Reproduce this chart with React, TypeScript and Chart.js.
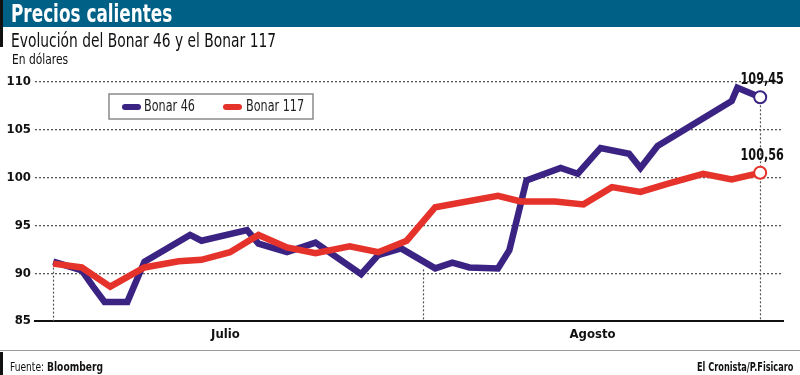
import React, { useEffect, useRef } from "react";
import { Chart, registerables } from "chart.js";

Chart.register(...registerables);

const FONT = "'Liberation Sans Narrow', 'DejaVu Sans Condensed', 'Roboto', sans-serif";

// Bonar 46 (day index within the period, value in USD)
const days46 = [0, 2.5, 3.5, 4.5, 6.5, 8, 12, 13, 17, 18, 20.5, 23, 27, 28.5, 30.5, 33.5, 35, 36.5, 39, 40, 41.5, 44.5, 46, 48, 50.5, 51.5, 53, 59.5, 60, 62];
const values46 = [91.2, 90.3, 88.6, 87.0, 87.0, 91.2, 94.0, 93.4, 94.5, 93.1, 92.2, 93.2, 89.9, 91.9, 92.6, 90.5, 91.1, 90.6, 90.5, 92.4, 99.7, 101.0, 100.4, 103.1, 102.5, 101.0, 103.3, 108.0, 109.4, 108.4];

// Bonar 117
const days117 = [0, 2.5, 5, 8, 11, 13, 15.5, 18, 20.5, 23, 26, 28.5, 31, 33.5, 39, 41, 44, 46.5, 49, 51.5, 54, 57, 59.5, 62];
const values117 = [91.0, 90.6, 88.6, 90.6, 91.25, 91.4, 92.2, 94.0, 92.7, 92.1, 92.8, 92.2, 93.4, 96.9, 98.1, 97.5, 97.5, 97.2, 99.0, 98.5, 99.4, 100.4, 99.8, 100.5];

const seriesNames = ["Bonar 46", "Bonar 117"];
const seriesColors = ["#3a2383", "#e5322a"];
const endLabels = ["109,45", "100,56"];

const months = ["Julio", "Agosto"];
const monthCenters = [15.1, 47.3];

const yTicks = [85, 90, 95, 100, 105, 110];

// dotted drop lines: day and the value where they start
const dropDays = [0, 32.4, 62];
const dropTops = [91.0, 90.4, 108.4];

function squeezedText(ctx: any, text: string, x: number, y: number, sx: number) {
  ctx.save();
  ctx.translate(x, y);
  ctx.scale(sx, 1);
  ctx.fillText(text, 0, 0);
  ctx.restore();
}

const overlayPlugin = {
  id: "overlay",
  beforeDatasetsDraw(chart: any) {
    const { ctx, scales } = chart;
    const x = scales.x;
    const y = scales.y;
    ctx.save();
    ctx.strokeStyle = "#555";
    ctx.lineWidth = 1.2;
    ctx.setLineDash([2, 2]);
    dropDays.forEach((d, i) => {
      const px = Math.round(x.getPixelForValue(d)) + 0.5;
      ctx.beginPath();
      ctx.moveTo(px, y.getPixelForValue(dropTops[i]));
      ctx.lineTo(px, y.getPixelForValue(85));
      ctx.stroke();
    });
    ctx.restore();
  },
  afterDatasetsDraw(chart: any) {
    const { ctx, chartArea, scales } = chart;
    const x = scales.x;
    const y = scales.y;
    ctx.save();
    // legend box
    const bx = chartArea.left + 74;
    const by = chartArea.top + 12;
    ctx.fillStyle = "#fff";
    ctx.fillRect(bx, by, 204, 25);
    ctx.strokeStyle = "#8a8a8a";
    ctx.lineWidth = 1.5;
    ctx.strokeRect(bx, by, 204, 25);
    const items = [
      { px: bx + 13, tx: bx + 35 },
      { px: bx + 114, tx: bx + 137 },
    ];
    items.forEach((it, i) => {
      ctx.strokeStyle = seriesColors[i];
      ctx.lineWidth = 6;
      ctx.lineCap = "round";
      ctx.beginPath();
      ctx.moveTo(it.px + 3, by + 13);
      ctx.lineTo(it.px + 16, by + 13);
      ctx.stroke();
      ctx.fillStyle = "#222";
      ctx.font = `15px ${FONT}`;
      ctx.textBaseline = "middle";
      ctx.textAlign = "left";
      squeezedText(ctx, seriesNames[i], it.tx, by + 13.5, 0.83);
    });
    // end labels
    ctx.fillStyle = "#111";
    ctx.font = `bold 16px ${FONT}`;
    ctx.textAlign = "center";
    ctx.textBaseline = "alphabetic";
    const lastVals = [values46[values46.length - 1], values117[values117.length - 1]];
    const lastDays = [days46[days46.length - 1], days117[days117.length - 1]];
    lastVals.forEach((v, i) => {
      squeezedText(ctx, endLabels[i], x.getPixelForValue(lastDays[i]) + 2, y.getPixelForValue(v) - 13, 0.78);
    });
    ctx.restore();
  },
};

function lastOnly(n: number, r: number) {
  return (c: any) => (c.dataIndex === n - 1 ? r : 0);
}

const sq = (s: number): any => ({ transform: `scaleX(${s})`, transformOrigin: "left center", whiteSpace: "nowrap" });

export default function App() {
  const ref = useRef<HTMLCanvasElement | null>(null);

  useEffect(() => {
    document.body.style.margin = "0";
    if (!ref.current) return;
    const mk = (ds: number[], vs: number[]) => ds.map((d, i) => ({ x: d, y: vs[i] }));
    const chart = new Chart(ref.current, {
      type: "line",
      data: {
        datasets: [
          {
            label: seriesNames[0],
            data: mk(days46, values46),
            borderColor: seriesColors[0],
            backgroundColor: "#fff",
            borderWidth: 6.5,
            pointRadius: lastOnly(days46.length, 6),
            pointBorderWidth: 2,
            pointBorderColor: seriesColors[0],
            pointBackgroundColor: "#fff",
            tension: 0,
            order: 2,
          },
          {
            label: seriesNames[1],
            data: mk(days117, values117),
            borderColor: seriesColors[1],
            backgroundColor: "#fff",
            borderWidth: 6.5,
            pointRadius: lastOnly(days117.length, 6),
            pointBorderWidth: 2,
            pointBorderColor: seriesColors[1],
            pointBackgroundColor: "#fff",
            tension: 0,
            order: 1,
          },
        ],
      },
      options: {
        responsive: false,
        animation: false,
        devicePixelRatio: 1,
        layout: { padding: { top: 82, right: 17, bottom: 24, left: 0 } },
        plugins: { legend: { display: false }, tooltip: { enabled: false } },
        scales: {
          x: {
            type: "linear",
            min: -1.6,
            max: 64,
            afterFit: (s: any) => {
              s.height = 30;
            },
            afterBuildTicks: (s: any) => {
              s.ticks = monthCenters.map((v) => ({ value: v }));
            },
            ticks: {
              autoSkip: false,
              maxRotation: 0,
              padding: 6,
              color: "#111",
              font: { family: FONT, size: 13, weight: "bold" },
              callback: (_v: any, i: number) => months[i],
            },
            grid: { display: false, drawTicks: false },
            border: { display: true, color: "#111", width: 2 },
          },
          y: {
            min: 85,
            max: 110,
            afterFit: (s: any) => {
              s.width = 35;
            },
            afterBuildTicks: (s: any) => {
              s.ticks = yTicks.map((v) => ({ value: v }));
            },
            ticks: {
              padding: 4,
              color: "#111",
              font: { family: FONT, size: 13, weight: "bold" },
            },
            grid: {
              drawTicks: false,
              lineWidth: 1.3,
              color: (c: any) => (c.tick && c.tick.value === 85 ? "rgba(0,0,0,0)" : "#555"),
            },
            border: { display: false, dash: [2, 2] },
          },
        },
      },
      plugins: [overlayPlugin],
    } as any);
    return () => chart.destroy();
  }, []);

  return (
    <div style={{ position: "relative", width: 800, height: 375, overflow: "hidden", background: "#fff", fontFamily: FONT }}>
      <canvas ref={ref} width={800} height={375} style={{ position: "absolute", left: 0, top: 0, width: 800, height: 375 }} />
      <div style={{ position: "absolute", left: 0, top: 0, width: 800, height: 27, background: "#006086" }} />
      <div style={{ position: "absolute", left: 0, top: 0, width: 3, height: 47, background: "#111" }} />
      <div style={{ position: "absolute", left: 11, top: 0, height: 27, lineHeight: "27px", color: "#fff", fontWeight: "bold", fontSize: 25, ...sq(0.75) }}>
        Precios calientes
      </div>
      <div style={{ position: "absolute", left: 11, top: 29, lineHeight: "22px", color: "#111", fontSize: 19, ...sq(0.81) }}>
        Evolución del Bonar 46 y el Bonar 117
      </div>
      <div style={{ position: "absolute", left: 12, top: 51, lineHeight: "16px", color: "#111", fontSize: 14, ...sq(0.85) }}>
        En dólares
      </div>
      <div style={{ position: "absolute", left: 0, top: 350, width: 800, height: 1, background: "#999" }} />
      <div style={{ position: "absolute", left: 0, top: 352, width: 3, height: 23, background: "#111" }} />
      <div style={{ position: "absolute", left: 10, top: 359, lineHeight: "16px", color: "#111", fontSize: 13, ...sq(0.78) }}>
        Fuente: <b>Bloomberg</b>
      </div>
      <div style={{ position: "absolute", left: 697, top: 359, lineHeight: "16px", color: "#111", fontSize: 13, fontWeight: "bold", ...sq(0.7) }}>
        El Cronista/P.Fisicaro
      </div>
    </div>
  );
}
